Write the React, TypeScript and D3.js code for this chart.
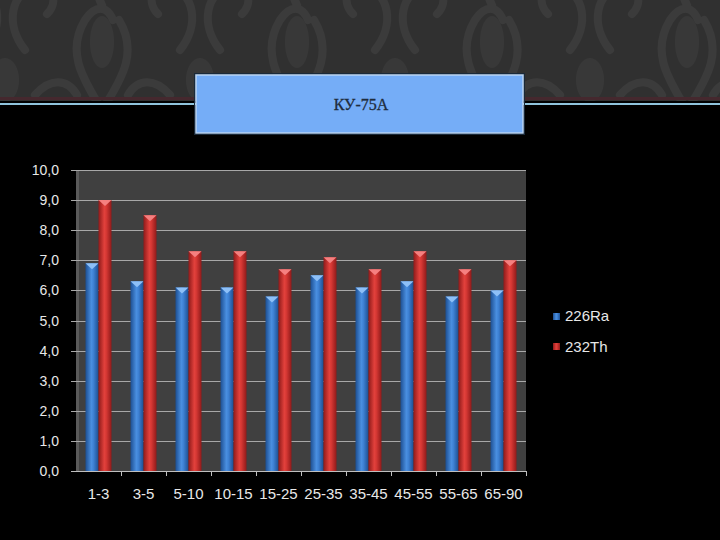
import React from "react";
import * as d3 from "d3";

const categories = ["1-3", "3-5", "5-10", "10-15", "15-25", "25-35", "35-45", "45-55", "55-65", "65-90"];
const seriesNames = ["226Ra", "232Th"];
const ra226 = [6.9, 6.3, 6.1, 6.1, 5.8, 6.5, 6.1, 6.3, 5.8, 6.0];
const th232 = [9.0, 8.5, 7.3, 7.3, 6.7, 7.1, 6.7, 7.3, 6.7, 7.0];
const yTicks = [0, 1, 2, 3, 4, 5, 6, 7, 8, 9, 10];
const title = "КУ-75А";

const W = 720, H = 540;
const plot = { left: 76, right: 526, top: 170, bottom: 471 };

export default function App() {
  const x0 = d3.scaleBand<string>().domain(categories).range([plot.left, plot.right]).paddingInner(0).paddingOuter(0);
  const x1 = d3.scaleBand<string>().domain(seriesNames).range([0, x0.bandwidth()]).paddingInner(0).paddingOuter(0.73);
  const y = d3.scaleLinear().domain([0, 10]).range([plot.bottom, plot.top]);
  const values = [ra226, th232];
  const fmt = (v: number) => d3.format(".1f")(v).replace(".", ",");
  const fontS = "'Liberation Sans', Arial, sans-serif";

  return (
    <svg width={W} height={H} style={{ position: "absolute", left: 0, top: 0, display: "block" }}>
      <defs>
        <pattern id="damask" width="195" height="130" patternUnits="userSpaceOnUse" x="5" y="-20">
          <rect width="195" height="130" fill="#303030" />
          <g fill="none" stroke="#3b3b3b" strokeWidth="8" strokeLinecap="round">
            <path d="M97 130 C75 95 62 70 80 40 C90 25 102 25 108 40" />
            <path d="M97 130 C120 95 132 70 114 40" />
            <path d="M97 25 C88 10 97 0 97 -5" />
            <path d="M20 70 C0 45 5 12 32 6 C48 3 54 22 42 34" />
            <path d="M175 70 C195 45 190 12 163 6 C147 3 141 22 153 34" />
            <path d="M30 115 C45 98 62 98 72 115" />
            <path d="M165 115 C150 98 133 98 123 115" />
          </g>
          <g fill="#383838">
            <ellipse cx="97" cy="62" rx="12" ry="26" />
            <ellipse cx="0" cy="100" rx="14" ry="22" />
            <ellipse cx="195" cy="100" rx="14" ry="22" />
          </g>
        </pattern>
        <linearGradient id="gBlue" x1="0" x2="1" y1="0" y2="0">
          <stop offset="0" stopColor="#1d4f92" />
          <stop offset="0.45" stopColor="#4a8fe0" />
          <stop offset="0.6" stopColor="#3f83d6" />
          <stop offset="1" stopColor="#1d4f92" />
        </linearGradient>
        <linearGradient id="gRed" x1="0" x2="1" y1="0" y2="0">
          <stop offset="0" stopColor="#8f1a1a" />
          <stop offset="0.45" stopColor="#e2413c" />
          <stop offset="0.6" stopColor="#d63834" />
          <stop offset="1" stopColor="#8f1a1a" />
        </linearGradient>
      </defs>

      <rect x={0} y={0} width={W} height={H} fill="#000" />
      <rect x={0} y={0} width={W} height={101} fill="url(#damask)" />
      <rect x={0} y={97} width={W} height={3} fill="#45282e" />
      <rect x={0} y={103} width={W} height={2} fill="#8fc3dc" />

      <rect x={194.5} y={73.5} width={330} height={61} fill="none" stroke="#1a2a3a" strokeWidth={1} />
      <rect x={196} y={75} width={327} height={58} fill="#75adf7" stroke="#b8d4f4" strokeWidth={1.5} />
      <text x={361} y={110} textAnchor="middle" fontFamily="'Liberation Serif', 'DejaVu Serif', serif" fontSize={16} fill="#1e2c3c" stroke="#1e2c3c" strokeWidth={0.3}>{title}</text>

      <rect x={plot.left} y={plot.top} width={plot.right - plot.left} height={plot.bottom - plot.top} fill="#404040" />
      <rect x={plot.left} y={plot.top} width={3} height={plot.bottom - plot.top} fill="#5a5a5a" />

      {yTicks.slice(1).map((t) => (
        <line key={"g" + t} x1={plot.left - 5} x2={plot.right} y1={Math.round(y(t)) + 0.5} y2={Math.round(y(t)) + 0.5} stroke="#a8a8a8" strokeWidth={1} />
      ))}

      {categories.map((c, i) => (
        <g key={c}>
          {values.map((vals, s) => {
            const bx = (x0(c) as number) + (x1(seriesNames[s]) as number);
            const bw = x1.bandwidth();
            const top = y(vals[i]);
            return (
              <g key={s}>
                <rect x={bx} y={top} width={bw} height={plot.bottom - top} fill={s === 0 ? "url(#gBlue)" : "url(#gRed)"} />
                <path d={`M${bx} ${top} L${bx + bw} ${top} L${bx + bw / 2} ${top + 6} Z`} fill={s === 0 ? "#8ec0f7" : "#f58080"} />
              </g>
            );
          })}
        </g>
      ))}

      <line x1={plot.left} x2={plot.right} y1={plot.bottom + 0.5} y2={plot.bottom + 0.5} stroke="#bfbfbf" strokeWidth={1} />
      {categories.map((c, i) => (
        <line key={"t" + i} x1={Math.round((x0(c) as number) + x0.bandwidth()) + 0.5} x2={Math.round((x0(c) as number) + x0.bandwidth()) + 0.5} y1={plot.bottom} y2={plot.bottom + 5} stroke="#bfbfbf" />
      ))}
      <line x1={plot.left - 5} x2={plot.left} y1={plot.bottom + 0.5} y2={plot.bottom + 0.5} stroke="#bfbfbf" />

      {yTicks.map((t) => (
        <text key={"y" + t} x={59} y={y(t) + 5} textAnchor="end" fontFamily={fontS} fontSize={14} fill="#e8e8e8">{fmt(t)}</text>
      ))}
      {categories.map((c) => (
        <text key={"x" + c} x={(x0(c) as number) + x0.bandwidth() / 2} y={499} textAnchor="middle" fontFamily={fontS} fontSize={15} fill="#e8e8e8">{c}</text>
      ))}

      {seriesNames.map((n, i) => (
        <g key={n}>
          <rect x={553} y={313 + i * 30} width={7} height={7} fill={i === 0 ? "url(#gBlue)" : "url(#gRed)"} />
          <text x={565} y={321 + i * 31} fontFamily={fontS} fontSize={15} fill="#e8e8e8">{n}</text>
        </g>
      ))}
    </svg>
  );
}
